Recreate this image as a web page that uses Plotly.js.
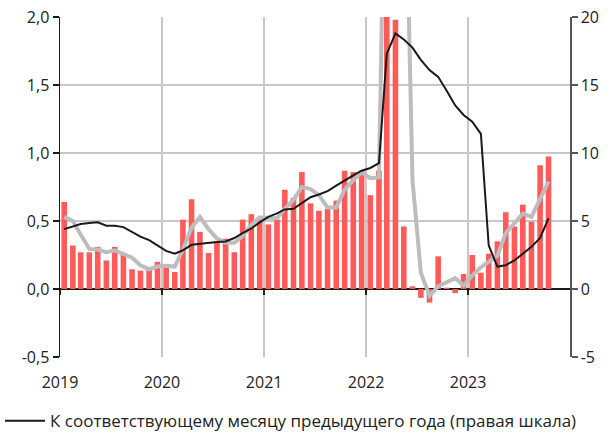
<!DOCTYPE html>
<html>
<head>
<meta charset="utf-8">
<script src="https://cdn.plot.ly/plotly-3.0.1.min.js"></script>
<style>html,body{margin:0;padding:0;background:#fff;}#chart{width:610px;height:435px;}</style>
</head>
<body>
<div id="chart"></div>
<script>
// Month labels (mid-month), Jan 2019 – Oct 2023
const startYear = 2019;
const monthCount = 58;
const months = [];
for (let i = 0; i < monthCount; i++) {
  const y = startYear + Math.floor(i / 12);
  const m = (i % 12) + 1;
  months.push(y + '-' + String(m).padStart(2, '0') + '-16');
}

// Month-on-month change, % (left axis) – bars
const momBars = [
  0.64, 0.32, 0.27, 0.27, 0.31, 0.21, 0.31, 0.25, 0.145, 0.135, 0.14, 0.20,
  0.165, 0.125, 0.51, 0.66, 0.42, 0.265, 0.35, 0.37, 0.27, 0.51, 0.55, 0.53,
  0.475, 0.51, 0.73, 0.67, 0.86, 0.63, 0.575, 0.59, 0.65, 0.87, 0.86, 0.87,
  0.69, 0.87, 4.5, 1.98, 0.46, 0.02, -0.065, -0.10, 0.24, 0.01, -0.03, 0.11,
  0.25, 0.12, 0.26, 0.35, 0.565, 0.46, 0.62, 0.495, 0.91, 0.975
];

// Gray line, right axis
const grayLine = [
  5.3, 5.0, 4.0, 2.95, 2.9, 2.7, 2.85, 2.6, 2.3, 1.75, 1.45, 1.65,
  1.7, 1.65, 2.9, 4.5, 5.3, 4.4, 3.7, 3.4, 3.4, 3.9, 4.7, 5.25,
  5.2, 5.2, 5.9, 6.55, 7.5, 7.35, 6.9, 6.0, 6.0, 7.3, 8.0, 8.6,
  8.15, 8.2, 40, 35, 37, 8.0, 1.2, -0.5, 0.2, 0.5, 0.8, 0.25,
  1.0, 1.6, 2.0, 2.45, 4.1, 4.8, 5.55, 5.3, 6.6, 7.9
];

// Year-on-year, % (right axis) – black line
const yoyLine = [
  4.4, 4.6, 4.78, 4.85, 4.9, 4.65, 4.65, 4.55, 4.2, 3.85, 3.6, 3.2,
  2.8, 2.6, 2.85, 3.25, 3.33, 3.4, 3.45, 3.5, 3.75, 4.1, 4.45, 4.9,
  5.3, 5.56, 5.85, 5.9, 6.35, 6.75, 6.95, 7.2, 7.6, 8.0, 8.35, 8.7,
  8.9, 9.25, 17.3, 18.8, 18.35, 17.75, 16.85, 16.1, 15.6, 14.6, 13.5, 12.8,
  12.3, 11.4, 3.2, 1.65, 1.75, 2.1, 2.6, 3.1, 3.75, 5.2
];

const yoyName = 'К соответствующему месяцу предыдущего года (правая шкала)';

const leftTickVals = [-0.5, 0, 0.5, 1.0, 1.5, 2.0];
const leftTickText = ['-0,5', '0,0', '0,5', '1,0', '1,5', '2,0'];
const rightTickVals = [-5, 0, 5, 10, 15, 20];
const rightTickText = ['-5', '0', '5', '10', '15', '20'];
const yearTickVals = ['2019-01-01', '2020-01-01', '2021-01-01', '2022-01-01', '2023-01-01'];
const yearTickText = ['2019', '2020', '2021', '2022', '2023'];

const DAY = 86400000;

const traces = [
  {
    type: 'bar', x: months, y: momBars, yaxis: 'y', xaxis: 'x',
    marker: { color: '#ff5a5a' }, width: 20 * DAY, showlegend: false, hoverinfo: 'skip'
  },
  {
    type: 'scatter', mode: 'lines', x: months, y: grayLine, yaxis: 'y2', xaxis: 'x',
    line: { color: '#bdbdbd', width: 4 }, showlegend: false, hoverinfo: 'skip'
  },
  {
    type: 'scatter', mode: 'lines', x: months, y: yoyLine, yaxis: 'y2', xaxis: 'x',
    name: yoyName,
    line: { color: '#1a1a1a', width: 2 }, showlegend: true, hoverinfo: 'skip'
  },
  {
    type: 'scatter', mode: 'lines', x: [], y: [], xaxis: 'x2', yaxis: 'y',
    showlegend: false, hoverinfo: 'skip'
  }
];

const font = { family: 'Open Sans, sans-serif', size: 16, color: '#222' };

const layout = {
  width: 610, height: 435,
  margin: { l: 60, r: 40, t: 17, b: 78 },
  paper_bgcolor: '#fff', plot_bgcolor: '#fff',
  font: font,
  barmode: 'overlay',
  xaxis: {
    type: 'date', range: ['2019-01-01', '2024-01-01'],
    tickvals: yearTickVals, ticktext: yearTickText,
    showgrid: true, gridcolor: '#c8c8c8', gridwidth: 1.5,
    showline: false, ticks: '', zeroline: false,
    ticklabelstandoff: 14,
    tickfont: { size: 16, color: '#222' }
  },
  xaxis2: {
    type: 'date', range: ['2019-01-01', '2024-01-01'],
    overlaying: 'x', anchor: 'free', position: 0.2,
    tickvals: yearTickVals, showticklabels: false,
    ticks: 'outside', ticklen: 5, tickwidth: 1.5, tickcolor: '#222',
    showgrid: false, showline: false, zeroline: false
  },
  yaxis: {
    range: [-0.5, 2.0], tickvals: leftTickVals, ticktext: leftTickText,
    showgrid: true, gridcolor: '#c8c8c8', gridwidth: 1.5,
    zeroline: true, zerolinecolor: '#1a1a1a', zerolinewidth: 1.5,
    showline: true, linecolor: '#1a1a1a', linewidth: 1.5,
    ticks: 'outside', ticklen: 6, tickwidth: 1.5, tickcolor: '#1a1a1a',
    tickfont: { size: 16, color: '#222' }
  },
  yaxis2: {
    range: [-5, 20], overlaying: 'y', side: 'right',
    tickvals: rightTickVals, ticktext: rightTickText,
    showgrid: false, zeroline: false,
    showline: true, linecolor: '#555', linewidth: 1.5,
    ticks: 'outside', ticklen: 6, tickwidth: 1.5, tickcolor: '#555',
    tickfont: { size: 16, color: '#222' }
  },
  showlegend: true,
  legend: {
    xref: 'container', yref: 'container',
    x: -0.012, y: 0.032, xanchor: 'left', yanchor: 'middle',
    orientation: 'h', bgcolor: 'rgba(0,0,0,0)',
    font: { size: 17, color: '#222', family: 'Open Sans, sans-serif' },
    itemwidth: 40
  }
};

Plotly.newPlot('chart', traces, layout, { staticPlot: true, displayModeBar: false });
</script>
</body>
</html>
